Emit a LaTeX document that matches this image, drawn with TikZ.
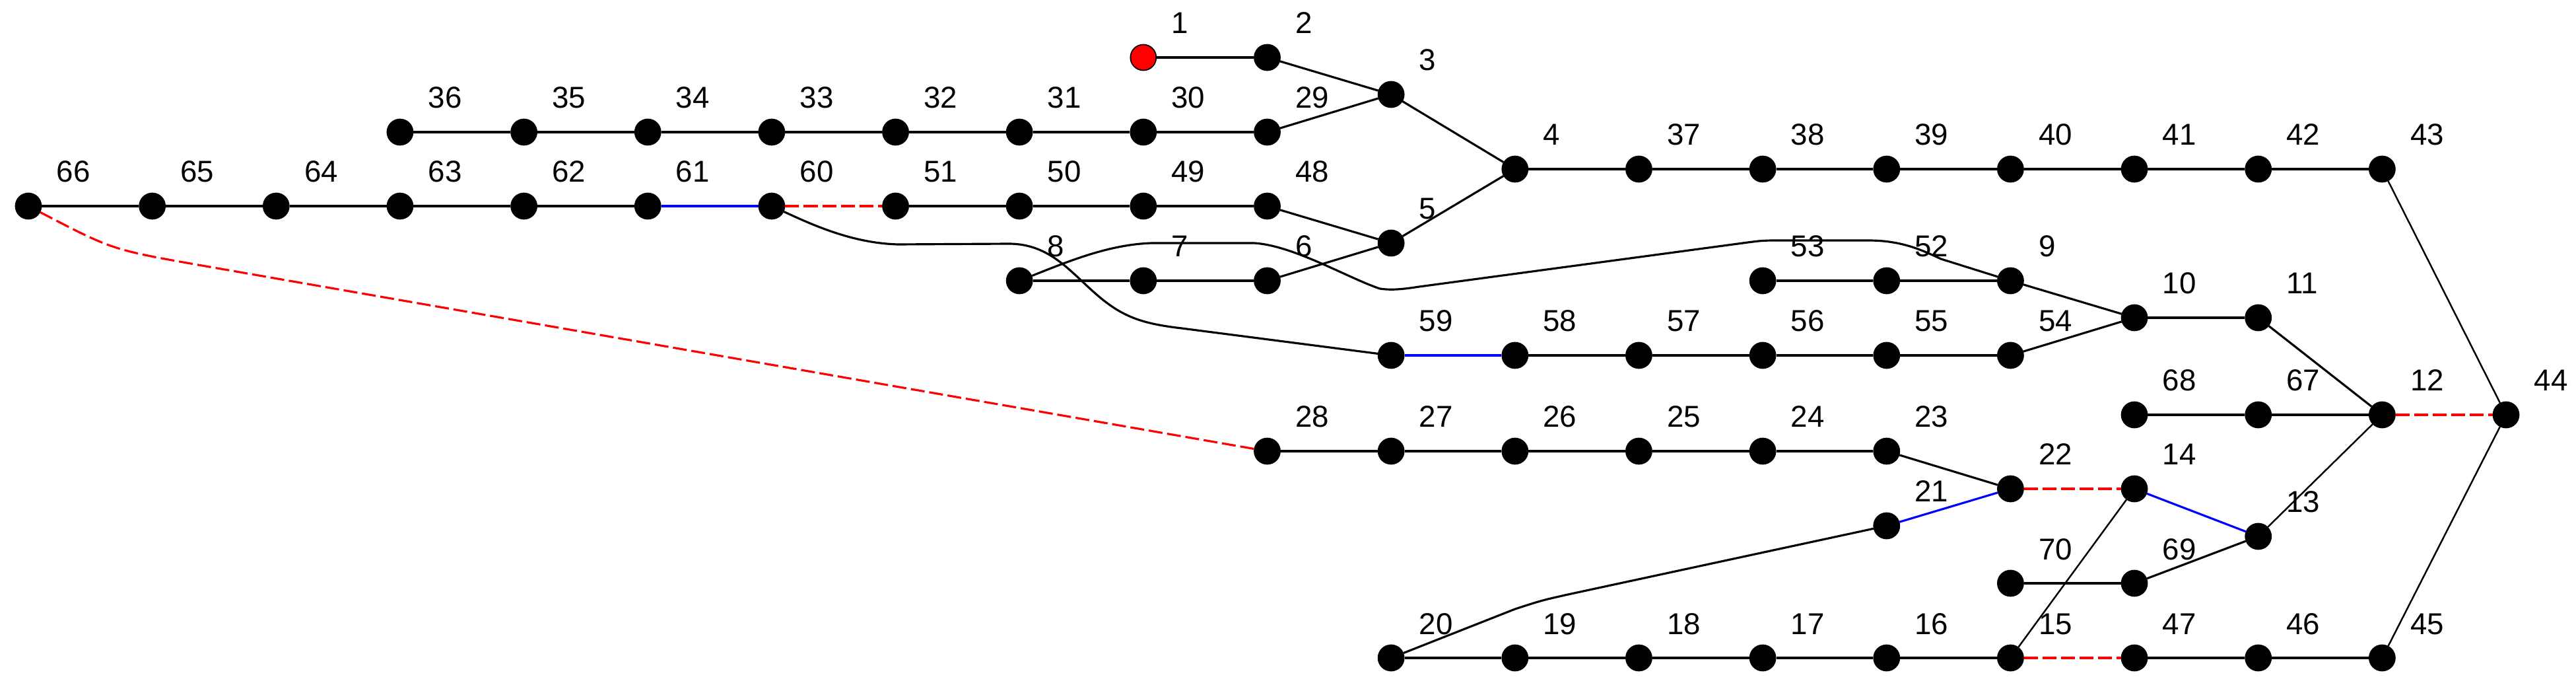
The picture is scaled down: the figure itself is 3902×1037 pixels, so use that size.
\documentclass[tikz,border=0pt]{standalone}
\usepackage{fontspec}
\setmainfont{Liberation Sans}
\begin{document}
\begin{tikzpicture}[x=0.01cm,y=-0.01cm,
  dot/.style={circle,fill=black,draw=black,line width=0.5pt,inner sep=0pt,minimum size=0.39cm},
  rootdot/.style={dot,fill=red},
  lbl/.style={anchor=base west,inner sep=0pt,font=\fontsize{13pt}{15pt}\selectfont},
  edge/.style={line width=0.9pt,black},
  thinedge/.style={line width=0.7pt,black},
  sw/.style={line width=0.9pt,blue},
  tie/.style={line width=0.9pt,red,dash pattern=on 6pt off 2pt}]
\useasboundingbox (0,0) rectangle (3902,1037);
\fill[white] (0,0) rectangle (3902,1037);
% nodes: name/column/y
\foreach \n/\c/\yy in {
  2/10/87, 3/11/143,
  36/3/200, 35/4/200, 34/5/200, 33/6/200, 32/7/200, 31/8/200, 30/9/200, 29/10/200,
  4/12/256, 37/13/256, 38/14/256, 39/15/256, 40/16/256, 41/17/256, 42/18/256, 43/19/256,
  66/0/312, 65/1/312, 64/2/312, 63/3/312, 62/4/312, 61/5/312, 60/6/312, 51/7/312, 50/8/312, 49/9/312, 48/10/312,
  5/11/368,
  8/8/425, 7/9/425, 6/10/425, 53/14/425, 52/15/425, 9/16/425,
  10/17/481, 11/18/481,
  59/11/538, 58/12/538, 57/13/538, 56/14/538, 55/15/538, 54/16/538,
  68/17/628, 67/18/628, 12/19/628, 44/20/628,
  28/10/683, 27/11/683, 26/12/683, 25/13/683, 24/14/683, 23/15/683,
  22/16/740, 14/17/740,
  21/15/796, 13/18/812,
  70/16/883, 69/17/883,
  20/11/996, 19/12/996, 18/13/996, 17/14/996, 16/15/996, 15/16/996, 47/17/996, 46/18/996, 45/19/996}
{
  \node[dot] (n\n) at ({43+187.65*\c},\yy) {};
  \node[lbl] (l\n) at ({43+187.65*\c+42},{\yy-36}) {\n};
}
\node[rootdot] (n1) at ({43+187.65*9},87) {};
\node[lbl] (l1) at ({43+187.65*9+42},{87-36}) {1};

% straight black edges
\draw[edge] (n1) -- (n2);
\draw[edge] (n2) -- (n3);
\draw[edge] (n36) -- (n35) -- (n34) -- (n33) -- (n32) -- (n31) -- (n30) -- (n29);
\draw[edge] (n29) -- (n3);
\draw[edge] (n3) -- (n4);
\draw[edge] (n4) -- (n37) -- (n38) -- (n39) -- (n40) -- (n41) -- (n42) -- (n43);
\draw[thinedge] (n43) -- (n44);
\draw[edge] (n66) -- (n65) -- (n64) -- (n63) -- (n62) -- (n61);
\draw[edge] (n51) -- (n50) -- (n49) -- (n48);
\draw[edge] (n48) -- (n5);
\draw[edge] (n5) -- (n4);
\draw[edge] (n8) -- (n7) -- (n6);
\draw[edge] (n6) -- (n5);
\draw[edge] (n53) -- (n52) -- (n9);
\draw[edge] (n9) -- (n10);
\draw[edge] (n10) -- (n11);
\draw[edge] (n11) -- (n12);
\draw[edge] (n54) -- (n10);
\draw[edge] (n58) -- (n57) -- (n56) -- (n55) -- (n54);
\draw[edge] (n68) -- (n67) -- (n12);
\draw[thinedge] (n12) -- (n13);
\draw[edge] (n13) -- (n69);
\draw[edge] (n69) -- (n70);
\draw[thinedge] (n14) -- (n15);
\draw[edge] (n23) -- (n22);
\draw[edge] (n28) -- (n27) -- (n26) -- (n25) -- (n24) -- (n23);
\draw[edge] (n20) -- (n19) -- (n18) -- (n17) -- (n16) -- (n15);
\draw[edge] (n47) -- (n46) -- (n45);
\draw[thinedge] (n45) -- (n44);

% blue edges
\draw[sw] (n61) -- (n60);
\draw[sw] (n59) -- (n58);
\draw[sw] (n21) -- (n22);
\draw[sw] (n14) -- (n13);

% red dashed edges
\draw[tie] (n60) -- (n51);
\draw[tie] (n12) -- (n44);
\draw[tie] (n22) -- (n14);
\draw[tie] (n15) -- (n47);
\draw[tie] (n28) -- (300,401) .. controls (170,378) .. (n66);

% curved black edges
\draw[edge] (n60) .. controls (1230,340) and (1290,368) .. (1360,370) -- (1530,369)
  .. controls (1590,370) and (1620,410) .. (1660,445)
  .. controls (1700,480) and (1730,490) .. (1790,497) -- (n59);
\draw[edge] (n8) .. controls (1620,395) and (1680,370) .. (1745,368) -- (1900,368)
  .. controls (1960,372) and (2040,420) .. (2090,437)
  .. controls (2110,440) and (2130,437) .. (2150,434) -- (2640,368)
  .. controls (2670,364) .. (2700,364) -- (2830,364)
  .. controls (2880,364) and (2910,378) .. (2940,392) -- (n9);
\draw[edge] (n21) -- (2375,900) .. controls (2335,909) .. (2295,922) -- (n20);
\end{tikzpicture}
\end{document}
